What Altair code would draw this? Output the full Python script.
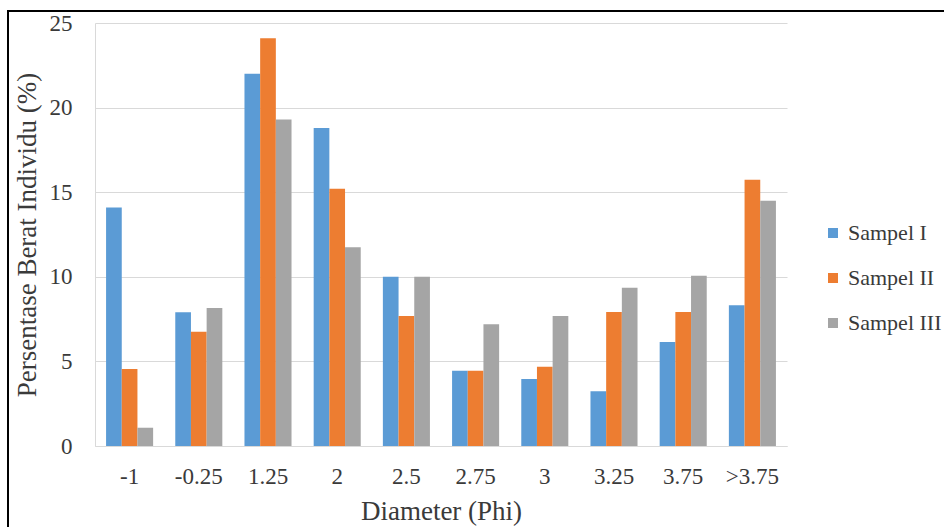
import altair as alt
import pandas as pd

categories = ["-1", "-0.25", "1.25", "2", "2.5", "2.75", "3", "3.25", "3.75", ">3.75"]
series = ["Sampel I", "Sampel II", "Sampel III"]
sampel_1 = [14.1, 7.9, 22.0, 18.8, 10.0, 4.45, 3.96, 3.24, 6.14, 8.32]
sampel_2 = [4.55, 6.75, 24.1, 15.2, 7.69, 4.45, 4.69, 7.92, 7.92, 15.73]
sampel_3 = [1.08, 8.16, 19.3, 11.75, 10.0, 7.2, 7.69, 9.35, 10.06, 14.5]
colors = ["#5B9BD5", "#ED7D31", "#A5A5A5"]

rows = []
for s, vals in zip(series, [sampel_1, sampel_2, sampel_3]):
    for c, v in zip(categories, vals):
        rows.append({"Diameter": c, "Sampel": s, "Nilai": v})
df = pd.DataFrame(rows)

W, H = 692, 423
FONT = "Liberation Serif, serif"
TXT = "#3a3a3a"

bars = alt.Chart(df).mark_bar().encode(
    x=alt.X("Diameter:N", sort=categories,
            scale=alt.Scale(paddingInner=0.32, paddingOuter=0.16),
            axis=alt.Axis(title="Diameter (Phi)", labelAngle=0, ticks=False,
                          domainColor="#d9d9d9", labelPadding=19, titlePadding=10,
                          labelFontSize=23, titleFontSize=27)),
    xOffset=alt.XOffset("Sampel:N", sort=series),
    y=alt.Y("Nilai:Q", scale=alt.Scale(domain=[0, 25], nice=False),
            axis=alt.Axis(title="Persentase Berat Individu (%)", values=[0, 5, 10, 15, 20, 25],
                          ticks=False, domain=True, domainColor="#d9d9d9",
                          gridColor="#d9d9d9", labelPadding=23, titlePadding=8,
                          labelFontSize=23, titleFontSize=27)),
    color=alt.Color("Sampel:N", sort=series,
                    scale=alt.Scale(domain=series, range=colors),
                    legend=alt.Legend(title=None, orient="none", legendX=727, legendY=199,
                                      symbolType="square", symbolSize=100, symbolStrokeWidth=0,
                                      labelFontSize=22, rowPadding=23, labelOffset=4)),
)

frame = alt.Chart(pd.DataFrame({"a": [0]})).mark_rect(
    fill=None, stroke="black", strokeWidth=2
).encode(
    x=alt.value(-87), x2=alt.value(W + 170),
    y=alt.value(-12), y2=alt.value(H + 95),
)

chart = alt.layer(bars, frame).properties(
    width=W, height=H,
    autosize=alt.AutoSizeParams(type="none"),
    padding={"left": 95, "top": 23, "right": 157, "bottom": 81},
    background="white",
).configure_view(stroke=None).configure_axis(
    labelFont=FONT, titleFont=FONT,
    labelColor=TXT, titleColor=TXT, titleFontWeight="normal",
).configure_legend(
    labelFont=FONT, labelColor=TXT,
)

chart.save("out.html", embed_options={"renderer": "svg", "actions": False})
